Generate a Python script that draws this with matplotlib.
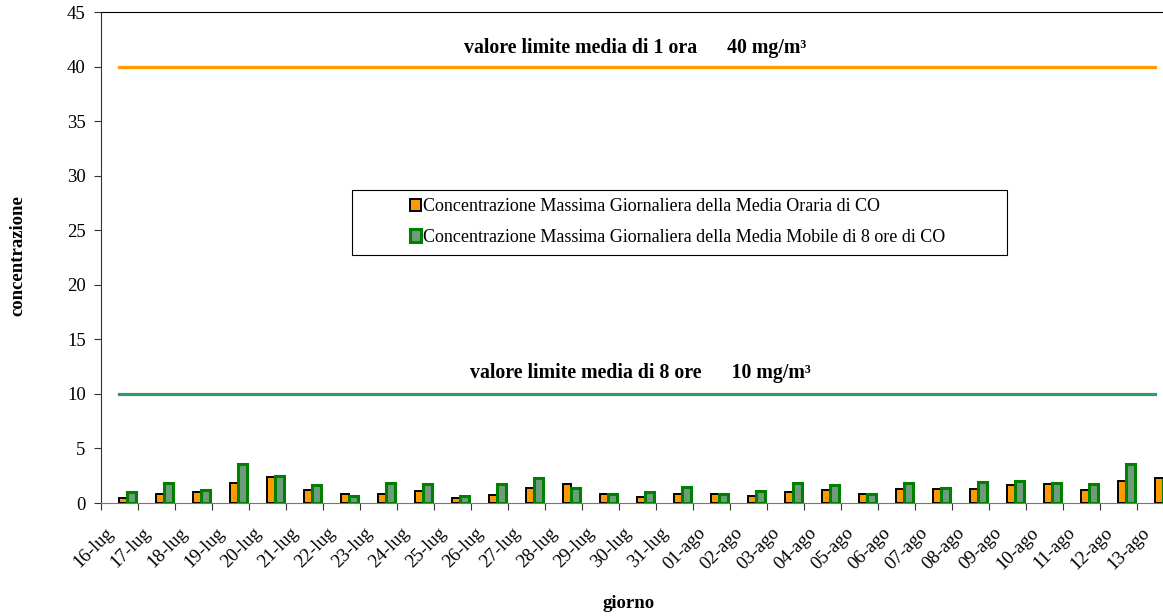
import numpy as np
import matplotlib.pyplot as plt
from matplotlib.patches import Rectangle
from matplotlib.transforms import ScaledTranslation

plt.rcParams['font.family'] = ['Liberation Serif', 'DejaVu Serif']

giorni = ['16-lug', '17-lug', '18-lug', '19-lug', '20-lug', '21-lug', '22-lug', '23-lug',
          '24-lug', '25-lug', '26-lug', '27-lug', '28-lug', '29-lug', '30-lug', '31-lug',
          '01-ago', '02-ago', '03-ago', '04-ago', '05-ago', '06-ago', '07-ago', '08-ago',
          '09-ago', '10-ago', '11-ago', '12-ago', '13-ago']
# massimo giornaliero della media oraria (mg/m3)
media_oraria = [0.5, 0.83, 1.0, 1.8, 2.4, 1.2, 0.83, 0.8, 1.1, 0.45, 0.77, 1.35, 1.7, 0.83,
                0.56, 0.8, 0.85, 0.6, 1.03, 1.2, 0.87, 1.28, 1.3, 1.28, 1.65, 1.72, 1.19, 2.0, 2.25]
# massimo giornaliero della media mobile di 8 ore (mg/m3)
media_8ore = [1.0, 1.85, 1.17, 3.6, 2.45, 1.65, 0.6, 1.8, 1.75, 0.6, 1.7, 2.3, 1.4, 0.83,
              0.97, 1.44, 0.8, 1.1, 1.8, 1.65, 0.87, 1.87, 1.37, 1.9, 2.06, 1.84, 1.72, 3.6, 2.1]
limite_1ora = 40
limite_8ore = 10

n = len(giorni)
x = np.arange(n)

fig = plt.figure(figsize=(11.63, 6.16), dpi=100)
ax = fig.add_axes([0.0868, 0.1834, 0.9226, 0.7971])

ax.bar(x + 0.5, media_oraria, width=0.2, align='edge', color='#FF9900',
       edgecolor='black', linewidth=1.4, zorder=3,
       label='Concentrazione Massima Giornaliera della Media Oraria di CO')
ax.bar(x + 0.71, media_8ore, width=0.25, align='edge', color='#6f9c7c',
       edgecolor='#008000', linewidth=2.2, zorder=3,
       label='Concentrazione Massima Giornaliera della Media Mobile di 8 ore di CO')

ax.plot(x + 0.5, np.full(n, limite_1ora), color='#FF9900', linewidth=2.3, zorder=2)
ax.plot(x + 0.5, np.full(n, limite_8ore), color='#339966', linewidth=2.3, zorder=2)

ax.set_xlim(0, n)
ax.set_ylim(0, 45)
ax.set_yticks(range(0, 46, 5))
ax.tick_params(axis='y', labelsize=13.5, length=5, pad=6, color='#333333')

ax.set_xticks(np.arange(n + 1))
ax.set_xticklabels([])
ax.set_xticks(x + 0.5, minor=True)
ax.set_xticklabels(giorni, minor=True, rotation=45, ha='right', va='center',
                   rotation_mode='anchor', fontsize=13.5)
ax.tick_params(axis='x', which='major', length=5, color='#333333')
ax.tick_params(axis='x', which='minor', length=0, pad=19.5)
shift = ScaledTranslation(-0.087, 0, fig.dpi_scale_trans)
for lab in ax.get_xticklabels(minor=True):
    lab.set_transform(lab.get_transform() + shift)

ax.spines['bottom'].set_color('#777777')
ax.spines['left'].set_color('#333333')
ax.spines['top'].set_color('black')

fig.text(0.5405, 1 - 603 / 616, 'giorno', fontsize=13.5, fontweight='bold',
         ha='center', va='center')
fig.text(0.0155, 1 - 256 / 616, 'concentrazione', rotation=90, fontsize=13.5,
         fontweight='bold', ha='center', va='center')

fig.text(0.5464, 1 - 48 / 616, 'valore limite media di 1 ora      40 mg/m³', fontsize=14.3,
         fontweight='bold', ha='center', va='center')
fig.text(0.551, 1 - 373 / 616, 'valore limite media di 8 ore      10 mg/m³', fontsize=14.3,
         fontweight='bold', ha='center', va='center')

fig.patches.append(Rectangle((352 / 1163, 1 - 255 / 616), 655 / 1163, 65 / 616,
                             transform=fig.transFigure, fill=False, edgecolor='black',
                             linewidth=0.8))
ax.legend(loc='center left', bbox_to_anchor=(410 / 1163, 1 - 222 / 616),
          bbox_transform=fig.transFigure, frameon=False, fontsize=13,
          handlelength=0.6, handleheight=0.7, handletextpad=0.1, labelspacing=0.75,
          borderpad=0, borderaxespad=0)

fig.savefig('out.png', dpi=100)
